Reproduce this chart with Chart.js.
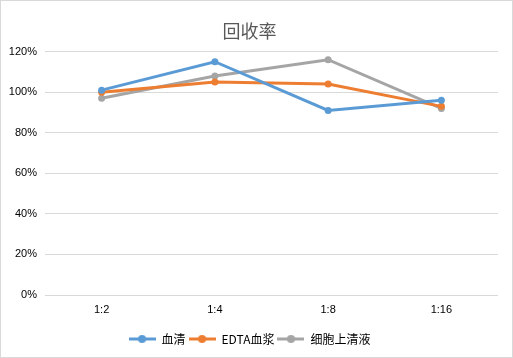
<!DOCTYPE html>
<html>
<head>
<meta charset="utf-8">
<script src="https://cdn.jsdelivr.net/npm/chart.js"></script>
<style>
  html, body { margin: 0; padding: 0; background: #fff; }
  .frame { width: 511px; height: 356px; border: 1px solid #D9D9D9; }
  canvas { display: block; }
</style>
</head>
<body>
<div class="frame"><canvas id="chart" width="511" height="356"></canvas></div>
<script>
// 回收率 data
const categories = ['1:2', '1:4', '1:8', '1:16'];
const serum = [1.01, 1.15, 0.91, 0.96];
const edtaPlasma = [1.00, 1.05, 1.04, 0.93];
const cellSupernatant = [0.97, 1.08, 1.16, 0.92];
const seriesNames = ['血清', 'EDTA血浆', '细胞上清液'];
const seriesColors = ['#5B9BD5', '#ED7D31', '#A5A5A5'];

const cjk = '"Noto Sans CJK SC", "Noto Sans", sans-serif';

// legend marker: short line with a dot in the middle
function legendMarker(color) {
  const c = document.createElement('canvas');
  c.width = 27; c.height = 10;
  const g = c.getContext('2d');
  g.strokeStyle = color; g.lineWidth = 3;
  g.beginPath(); g.moveTo(0, 5); g.lineTo(27, 5); g.stroke();
  g.fillStyle = color;
  g.beginPath(); g.arc(13.5, 5, 4, 0, Math.PI * 2); g.fill();
  return c;
}

const datasets = [serum, edtaPlasma, cellSupernatant].map((d, i) => ({
  label: seriesNames[i],
  data: d,
  borderColor: seriesColors[i],
  backgroundColor: seriesColors[i],
  borderWidth: 3,
  pointRadius: 3.5,
  pointBorderWidth: 0,
  tension: 0
}));

new Chart(document.getElementById('chart'), {
  type: 'line',
  data: { labels: categories, datasets },
  options: {
    responsive: false,
    animation: false,
    layout: { padding: { left: 0, right: 14, top: 0, bottom: 2 } },
    plugins: {
      title: {
        display: true,
        text: '回收率',
        color: '#595959',
        font: { family: cjk, size: 18, weight: 'normal' },
        padding: { top: 19, bottom: 10 }
      },
      legend: {
        position: 'bottom',
        labels: {
          color: '#000',
          font: { family: cjk, size: 12 },
          usePointStyle: true,
          pointStyleWidth: 27,
          boxHeight: 10,
          padding: 3,
          generateLabels(chart) {
            return chart.data.datasets.map((ds, i) => ({
              text: ds.label,
              pointStyle: legendMarker(ds.borderColor),
              fillStyle: ds.borderColor,
              strokeStyle: ds.borderColor,
              lineWidth: 0,
              hidden: false,
              datasetIndex: i,
              fontColor: '#000'
            }));
          }
        }
      },
      tooltip: { enabled: false }
    },
    scales: {
      x: {
        offset: true,
        grid: { display: false, drawTicks: false },
        border: { display: false },
        ticks: { color: '#000', font: { family: '"Liberation Sans", sans-serif', size: 11 }, padding: 8 },
        afterFit(scale) { scale.height = 35; }
      },
      y: {
        min: 0,
        max: 1.2,
        grid: { color: '#D9D9D9', lineWidth: 1, drawTicks: false },
        border: { display: false },
        ticks: {
          stepSize: 0.2,
          color: '#000',
          font: { family: '"Liberation Sans", sans-serif', size: 11 },
          padding: 8,
          callback: v => Math.round(v * 100) + '%'
        },
        afterFit(scale) { scale.width = 44; }
      }
    }
  }
});
</script>
</body>
</html>
